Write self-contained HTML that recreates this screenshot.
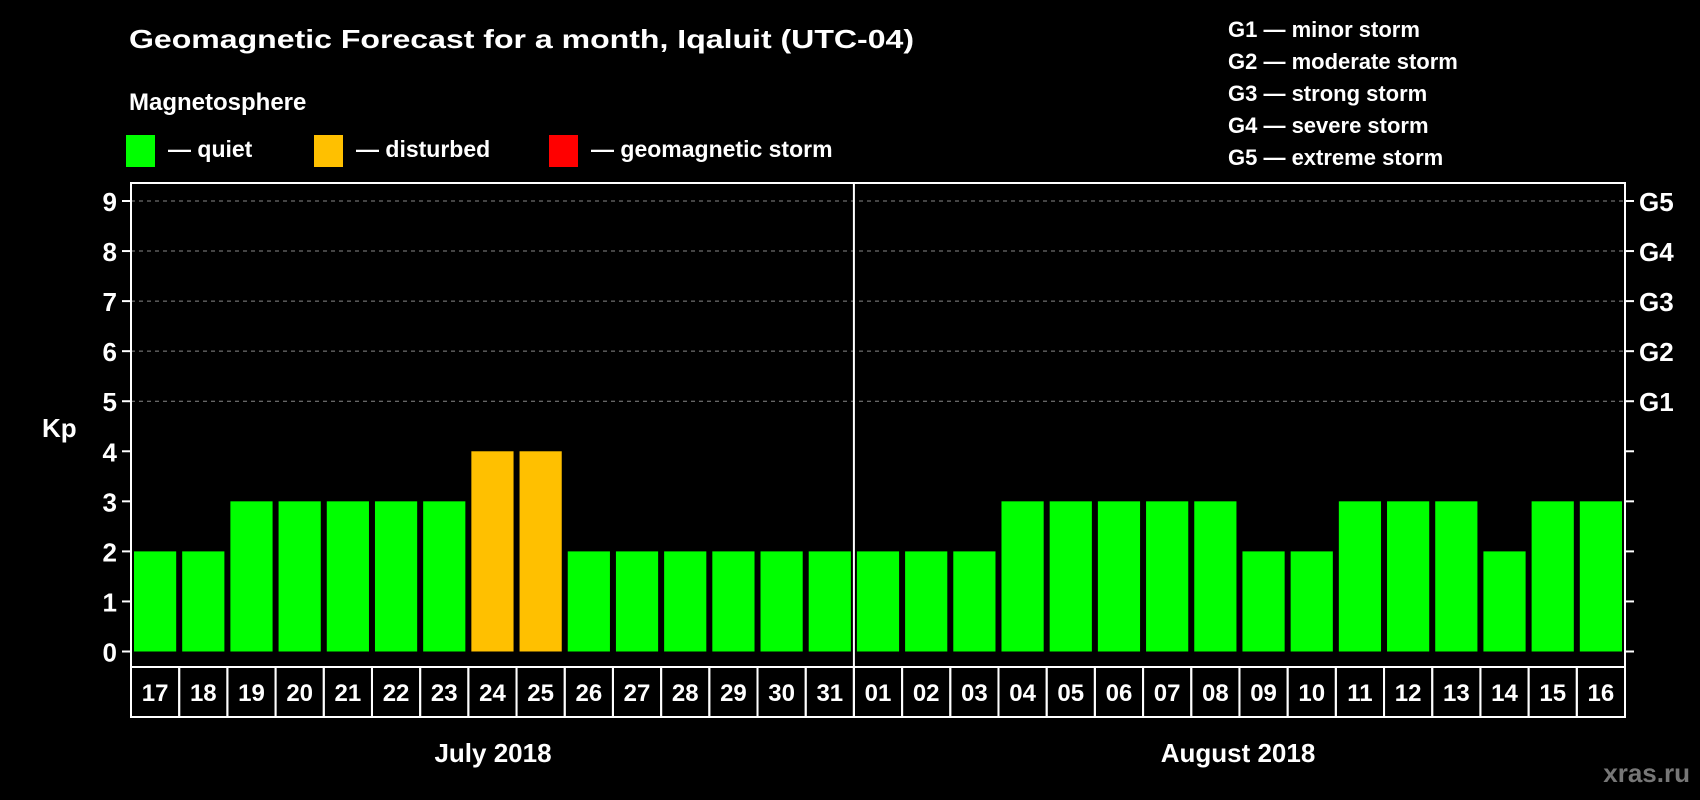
<!DOCTYPE html>
<html><head><meta charset="utf-8"><style>
html,body{margin:0;padding:0;background:#000;width:1700px;height:800px;overflow:hidden}
svg text{font-family:"Liberation Sans",Arial,sans-serif;font-weight:bold;fill:#fff}
</style></head><body>
<svg id="chart" width="1700" height="800" viewBox="0 0 1700 800" xmlns="http://www.w3.org/2000/svg">
<rect width="1700" height="800" fill="#000"/>
<text x="129" y="48" font-size="26" textLength="785" lengthAdjust="spacingAndGlyphs">Geomagnetic Forecast for a month, Iqaluit (UTC-04)</text>
<text x="129" y="110" font-size="24">Magnetosphere</text>
<g>
<rect x="126" y="135" width="29" height="32" fill="#00ff00"/>
<text x="168" y="157" font-size="23">— quiet</text></g>
<g>
<rect x="314" y="135" width="29" height="32" fill="#ffc000"/>
<text x="356" y="157" font-size="23">— disturbed</text></g>
<g>
<rect x="549" y="135" width="29" height="32" fill="#ff0000"/>
<text x="591" y="157" font-size="23">— geomagnetic storm</text></g>
<g font-size="22">
<text x="1228" y="37">G1 — minor storm</text>
<text x="1228" y="69">G2 — moderate storm</text>
<text x="1228" y="101">G3 — strong storm</text>
<text x="1228" y="133">G4 — severe storm</text>
<text x="1228" y="165">G5 — extreme storm</text>
</g>
<text x="42" y="437" font-size="26">Kp</text>
<g id="grid"></g><g id="bars"></g><g id="axes"></g>
<text x="493" y="762" font-size="26" text-anchor="middle">July 2018</text>
<text x="1238" y="762" font-size="26" text-anchor="middle">August 2018</text>
<text x="1690" y="782" font-size="26" fill="#777" style="fill:#777" text-anchor="end">xras.ru</text>
</svg>
<script>
const days=["17","18","19","20","21","22","23","24","25","26","27","28","29","30","31","01","02","03","04","05","06","07","08","09","10","11","12","13","14","15","16"];
const kp=[2,2,3,3,3,3,3,4,4,2,2,2,2,2,2,2,2,2,3,3,3,3,3,2,2,3,3,3,2,3,3];
const yTicks=[0,1,2,3,4,5,6,7,8,9];
const gLabels=["G1","G2","G3","G4","G5"];
const NS="http://www.w3.org/2000/svg";
const L=131,R=1625,T=183,B=667,Y0=651.5,Y9=201;
const slot=(R-L)/days.length;
const y=v=>Y0-(Y0-Y9)*v/9;
const x=i=>L+i*slot;
function mk(tag,attrs,parent){const e=document.createElementNS(NS,tag);for(const k in attrs)e.setAttribute(k,attrs[k]);parent.appendChild(e);return e;}
const grid=document.getElementById('grid'),bars=document.getElementById('bars'),axes=document.getElementById('axes');
yTicks.forEach(v=>{
 if(v>=5){const g=mk('line',{x1:L,x2:R,y1:y(v),y2:y(v),stroke:'#888','stroke-dasharray':'4,4','stroke-width':1},grid);
 
 }
 const t=mk('line',{x1:L-9,x2:L,y1:y(v),y2:y(v),stroke:'#fff','stroke-width':2},axes);
 
 
 const t2=mk('line',{x1:R,x2:R+9,y1:y(v),y2:y(v),stroke:'#fff','stroke-width':2},axes);
 
 
 const lb=mk('text',{x:L-14,y:y(v)+10,'font-size':26,'text-anchor':'end'},axes);lb.textContent=v;
 
 
});
gLabels.forEach((g,i)=>{
 const lb=mk('text',{x:R+14,y:y(5+i)+10,'font-size':26},axes);lb.textContent=g;
 
 
});
kp.forEach((v,i)=>{
 const c=v>=5?'#ff0000':(v>=4?'#ffc000':'#00ff00');
 const r=mk('rect',{x:x(i)+3,y:y(v),width:slot-6,height:Y0-y(v),fill:c},bars);
 
 
});
const fr=mk('rect',{x:L,y:T,width:R-L,height:B-T,fill:'none',stroke:'#fff','stroke-width':2},axes);


const dv=mk('line',{x1:x(15),x2:x(15),y1:T,y2:717,stroke:'#fff','stroke-width':2},axes);


days.forEach((d,i)=>{
 const c=mk('rect',{x:x(i),y:B,width:slot,height:717-B,fill:'none',stroke:'#fff','stroke-width':2},axes);
 
 
 const t=mk('text',{x:x(i)+slot/2,y:701,'font-size':24,'text-anchor':'middle'},axes);t.textContent=d;
 
 
});
</script>
</body></html>
